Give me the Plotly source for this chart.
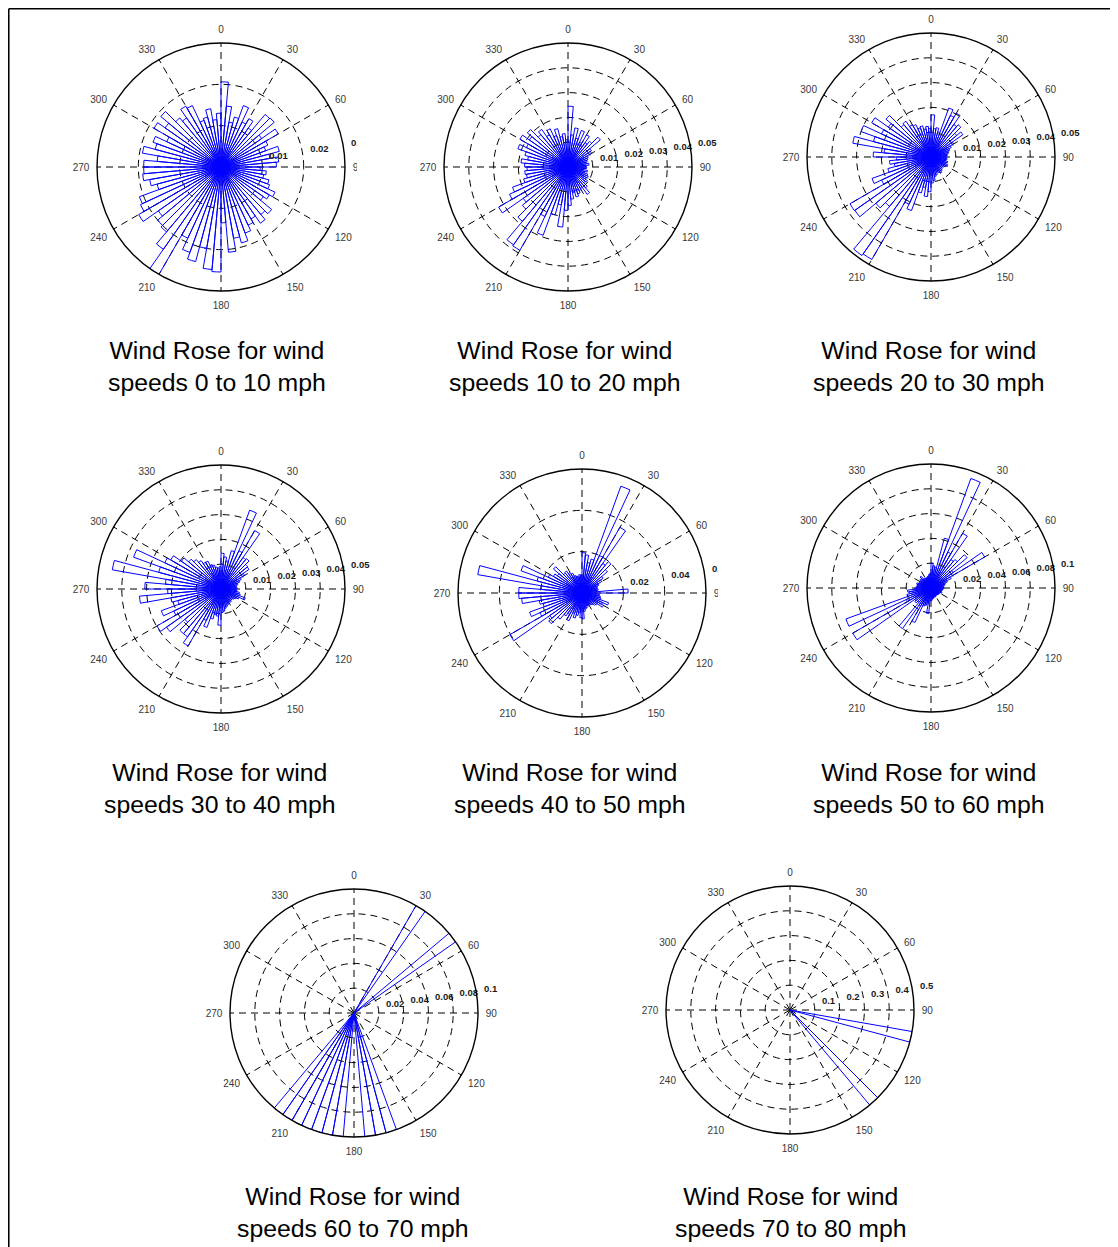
import plotly.graph_objects as go

W, H = 1110, 1239
OFF = 8  # browser body margin: reference pixel coords are shifted by this

# direction bins (start angle, degrees, 5-degree bins, compass convention)
direction_bins = list(range(0, 360, 5))

speed_0_10 = [0.0206, 0.0148, 0.011, 0.0125, 0.0158, 0.012, 0.0135, 0.0115, 0.0166, 0.0168, 0.012, 0.016,
              0.0125, 0.0115, 0.0146, 0.012, 0.014, 0.0134, 0.0095, 0.011, 0.0105, 0.012, 0.0125, 0.0144,
              0.0135, 0.0125, 0.016, 0.015, 0.0166, 0.0145, 0.0155, 0.017, 0.019, 0.0175, 0.0207, 0.0135,
              0.0254, 0.0249, 0.020, 0.0237, 0.022, 0.019, 0.030, 0.0243, 0.0205, 0.020, 0.0185, 0.023,
              0.0215, 0.021, 0.016, 0.0175, 0.019, 0.0187, 0.0187, 0.0155, 0.0193, 0.0165, 0.0175, 0.0145,
              0.0187, 0.0165, 0.019, 0.0155, 0.0145, 0.017, 0.0164, 0.012, 0.0125, 0.0143, 0.0115, 0.013]

speed_10_20 = [0.0245, 0.013, 0.016, 0.012, 0.0157, 0.011, 0.015, 0.012, 0.0135, 0.017, 0.0115, 0.011,
               0.009, 0.0085, 0.008, 0.0075, 0.0085, 0.007, 0.0075, 0.0065, 0.008, 0.007, 0.0085, 0.009,
               0.0085, 0.0095, 0.009, 0.011, 0.0135, 0.010, 0.0105, 0.0115, 0.0125, 0.0105, 0.013, 0.0155,
               0.0175, 0.0243, 0.0155, 0.020, 0.0293, 0.022, 0.0388, 0.0383, 0.0286, 0.024, 0.022, 0.0323,
               0.026, 0.0238, 0.0185, 0.017, 0.0175, 0.0165, 0.0175, 0.019, 0.0165, 0.018, 0.0215, 0.0185,
               0.0224, 0.019, 0.0214, 0.017, 0.0185, 0.015, 0.017, 0.0135, 0.016, 0.0125, 0.0135, 0.011]

speed_20_30 = [0.017, 0.0115, 0.012, 0.0105, 0.021, 0.0185, 0.0204, 0.016, 0.017, 0.0135, 0.0157, 0.0105,
               0.009, 0.008, 0.0075, 0.007, 0.0065, 0.0065, 0.006, 0.0065, 0.006, 0.007, 0.0065, 0.0075,
               0.007, 0.0065, 0.006, 0.0065, 0.007, 0.0075, 0.007, 0.0065, 0.0075, 0.008, 0.0095, 0.0105,
               0.014, 0.016, 0.0125, 0.015, 0.023, 0.021, 0.0477, 0.0485, 0.026, 0.029, 0.0375, 0.0377,
               0.022, 0.0253, 0.018, 0.015, 0.0168, 0.014, 0.0233, 0.019, 0.032, 0.024, 0.030, 0.022,
               0.0276, 0.021, 0.0237, 0.017, 0.0176, 0.015, 0.0144, 0.0125, 0.013, 0.0115, 0.0124, 0.0115]

speed_30_40 = [0.0144, 0.013, 0.0115, 0.016, 0.0338, 0.017, 0.0272, 0.0155, 0.016, 0.014, 0.0138, 0.011,
               0.009, 0.008, 0.007, 0.0065, 0.006, 0.0065, 0.006, 0.0065, 0.0075, 0.008, 0.0104, 0.008,
               0.007, 0.0065, 0.006, 0.006, 0.0065, 0.006, 0.0065, 0.007, 0.0075, 0.008, 0.009, 0.0095,
               0.0146, 0.011, 0.0105, 0.0125, 0.0165, 0.014, 0.0265, 0.0235, 0.0235, 0.019, 0.0268, 0.0298,
               0.021, 0.0256, 0.018, 0.0205, 0.033, 0.0215, 0.0307, 0.0225, 0.0445, 0.026, 0.0375, 0.025,
               0.0234, 0.0195, 0.017, 0.0155, 0.014, 0.0125, 0.0124, 0.0105, 0.010, 0.009, 0.0085, 0.009]

speed_40_50 = [0.0195, 0.0185, 0.015, 0.017, 0.055, 0.020, 0.0367, 0.0175, 0.0198, 0.016, 0.0125, 0.011,
               0.009, 0.008, 0.0075, 0.008, 0.007, 0.0223, 0.007, 0.0085, 0.009, 0.0095, 0.0137, 0.011,
               0.012, 0.009, 0.0085, 0.0075, 0.007, 0.0065, 0.007, 0.0065, 0.0075, 0.008, 0.009, 0.0125,
               0.012, 0.0095, 0.011, 0.0125, 0.0105, 0.0148, 0.012, 0.0135, 0.0165, 0.021, 0.019, 0.0403,
               0.0225, 0.027, 0.0195, 0.021, 0.0293, 0.0306, 0.0306, 0.020, 0.0512, 0.0225, 0.0314, 0.018,
               0.016, 0.0145, 0.018, 0.0125, 0.013, 0.0115, 0.0105, 0.009, 0.0085, 0.008, 0.009, 0.0085]

speed_50_60 = [0.020, 0.018, 0.017, 0.0416, 0.094, 0.032, 0.051, 0.028, 0.030, 0.038, 0.022, 0.050,
               0.018, 0.014, 0.012, 0.011, 0.010, 0.0105, 0.010, 0.0095, 0.009, 0.0085, 0.0095, 0.0085,
               0.008, 0.0075, 0.008, 0.0075, 0.007, 0.0075, 0.008, 0.0075, 0.008, 0.0085, 0.009, 0.010,
               0.0105, 0.0207, 0.013, 0.0145, 0.0155, 0.0307, 0.017, 0.040, 0.015, 0.017, 0.016, 0.0728,
               0.022, 0.073, 0.020, 0.018, 0.019, 0.013, 0.012, 0.0115, 0.011, 0.012, 0.0105, 0.010,
               0.0095, 0.011, 0.010, 0.0125, 0.0095, 0.009, 0.0085, 0.009, 0.0095, 0.010, 0.011, 0.012]

speed_60_70 = [0, 0, 0, 0, 0, 0, 0.1, 0, 0, 0, 0.1, 0,
               0, 0, 0, 0, 0, 0, 0, 0, 0, 0, 0, 0,
               0, 0, 0, 0, 0, 0, 0, 0, 0.1, 0.1, 0.1, 0,
               0, 0.1, 0.1, 0.1, 0.1, 0.1, 0.1, 0.1, 0, 0, 0, 0,
               0, 0, 0, 0, 0, 0, 0, 0, 0, 0, 0, 0,
               0, 0, 0, 0, 0, 0, 0, 0, 0, 0, 0, 0]

speed_70_80 = [0, 0, 0, 0, 0, 0, 0, 0, 0, 0, 0, 0,
               0, 0, 0, 0, 0, 0, 0, 0, 0.5, 0, 0, 0,
               0, 0, 0, 0.5, 0, 0, 0, 0, 0, 0, 0, 0,
               0, 0, 0, 0, 0, 0, 0, 0, 0, 0, 0, 0,
               0, 0, 0, 0, 0, 0, 0, 0, 0, 0, 0, 0,
               0, 0, 0, 0, 0, 0, 0, 0, 0, 0, 0, 0]

titles = ["Wind Rose for wind<br>speeds 0 to 10 mph", "Wind Rose for wind<br>speeds 10 to 20 mph",
          "Wind Rose for wind<br>speeds 20 to 30 mph", "Wind Rose for wind<br>speeds 30 to 40 mph",
          "Wind Rose for wind<br>speeds 40 to 50 mph", "Wind Rose for wind<br>speeds 50 to 60 mph",
          "Wind Rose for wind<br>speeds 60 to 70 mph", "Wind Rose for wind<br>speeds 70 to 80 mph"]

radial_ticks = [[0.01, 0.02, 0.03], [0.01, 0.02, 0.03, 0.04, 0.05], [0.01, 0.02, 0.03, 0.04, 0.05],
                [0.01, 0.02, 0.03, 0.04, 0.05], [0.02, 0.04, 0.06], [0.02, 0.04, 0.06, 0.08, 0.1],
                [0.02, 0.04, 0.06, 0.08, 0.1], [0.1, 0.2, 0.3, 0.4, 0.5]]
radial_ticktext = [["0.01", "0.02", "0.03"], ["0.01", "0.02", "0.03", "0.04", "0.05"],
                   ["0.01", "0.02", "0.03", "0.04", "0.05"], ["0.01", "0.02", "0.03", "0.04", "0.05"],
                   ["0.02", "0.04", "0.06"], ["0.02", "0.04", "0.06", "0.08", "0.1"],
                   ["0.02", "0.04", "0.06", "0.08", "0.1"], ["0.1", "0.2", "0.3", "0.4", "0.5"]]
radial_label_direction = 81.5  # compass direction along which the radial labels sit
LABEL_PAD = "\u2002\u00a0"     # small gap between tick position and its label

angle_ticks = list(range(0, 360, 30))
angle_ticktext = [str(a) for a in angle_ticks]

series = [speed_0_10, speed_10_20, speed_20_30, speed_30_40,
          speed_40_50, speed_50_60, speed_60_70, speed_70_80]

# layout geometry (reference pixels)
centers = [(221, 167), (568, 167), (931, 157), (221, 589), (582, 593), (931, 588), (354, 1013), (790, 1010)]
title_pos = [(217, 366.5), (565, 366.5), (929, 366.5), (220, 788.5), (570, 788.5), (929, 788.5),
             (353, 1212.5), (791, 1212.5)]
R = 124


def px(x):
    return (x - OFF) / W


def py(y):
    return 1 - (y - OFF) / H


fig = go.Figure()
layout = dict(width=W, height=H, margin=dict(l=0, r=0, t=0, b=0),
              paper_bgcolor="white", plot_bgcolor="white", showlegend=False)

dash = "7px,5px"
annotations = []
for i, vals in enumerate(series):
    name = "polar" if i == 0 else f"polar{i+1}"
    th = [d for d, v in zip(direction_bins, vals) if v > 0]
    rr = [v for v in vals if v > 0]
    fig.add_trace(go.Barpolar(
        theta=th, r=rr, width=5, offset=0, subplot=name,
        marker=dict(color="rgba(0,0,0,0)", line=dict(color="#0000ff", width=1)),
        hoverinfo="r+theta"))
    fig.add_trace(go.Scatterpolar(
        r=radial_ticks[i], theta=[radial_label_direction] * len(radial_ticks[i]),
        text=[LABEL_PAD + t for t in radial_ticktext[i]], mode="text", textposition="top right",
        cliponaxis=False, subplot=name, hoverinfo="skip",
        textfont=dict(family="Liberation Sans, Arial", size=9.5, color="#1a1a1a", weight="bold")))
    cx, cy = centers[i]
    layout[name] = dict(
        domain=dict(x=[px(cx - R), px(cx + R)], y=[py(cy + R), py(cy - R)]),
        bgcolor="rgba(0,0,0,0)",
        angularaxis=dict(rotation=90, direction="clockwise", tickmode="array",
                         tickvals=angle_ticks, ticktext=angle_ticktext,
                         ticks="outside", ticklen=5, tickcolor="rgba(0,0,0,0)",
                         showgrid=True, gridcolor="#000000", griddash=dash, gridwidth=1,
                         showline=True, linecolor="#000000", linewidth=1.4,
                         tickfont=dict(family="Liberation Sans, Arial", size=10, color="#383838")),
        radialaxis=dict(range=[0, radial_ticks[i][-1]], tickmode="array",
                        tickvals=radial_ticks[i], showticklabels=False,
                        showline=False, ticks="", showgrid=True, gridcolor="#000000",
                        griddash=dash, gridwidth=1),
    )
    tx, ty = title_pos[i]
    annotations.append(dict(text=titles[i], x=px(tx), y=py(ty), xref="paper", yref="paper",
                            xanchor="center", yanchor="middle", showarrow=False,
                            font=dict(family="Liberation Sans, Arial", size=24.8, color="black")))

shapes = [
    dict(type="line", xref="paper", yref="paper", x0=0.75 / W, x1=1.0, y0=1 - 0.75 / H, y1=1 - 0.75 / H,
         line=dict(color="black", width=1.6)),
    dict(type="line", xref="paper", yref="paper", x0=0.75 / W, x1=0.75 / W, y0=0, y1=1 - 0.75 / H,
         line=dict(color="black", width=1.6)),
    # clipped label areas in the original figure
    dict(type="rect", xref="paper", yref="paper", layer="above", x0=px(357), x1=px(385),
         y0=py(180), y1=py(128), fillcolor="white", line=dict(width=0)),
    dict(type="rect", xref="paper", yref="paper", layer="above", x0=px(718), x1=px(745),
         y0=py(606), y1=py(553), fillcolor="white", line=dict(width=0)),
]
layout["annotations"] = annotations
layout["shapes"] = shapes
fig.update_layout(**layout)
fig.write_html("out.html")
